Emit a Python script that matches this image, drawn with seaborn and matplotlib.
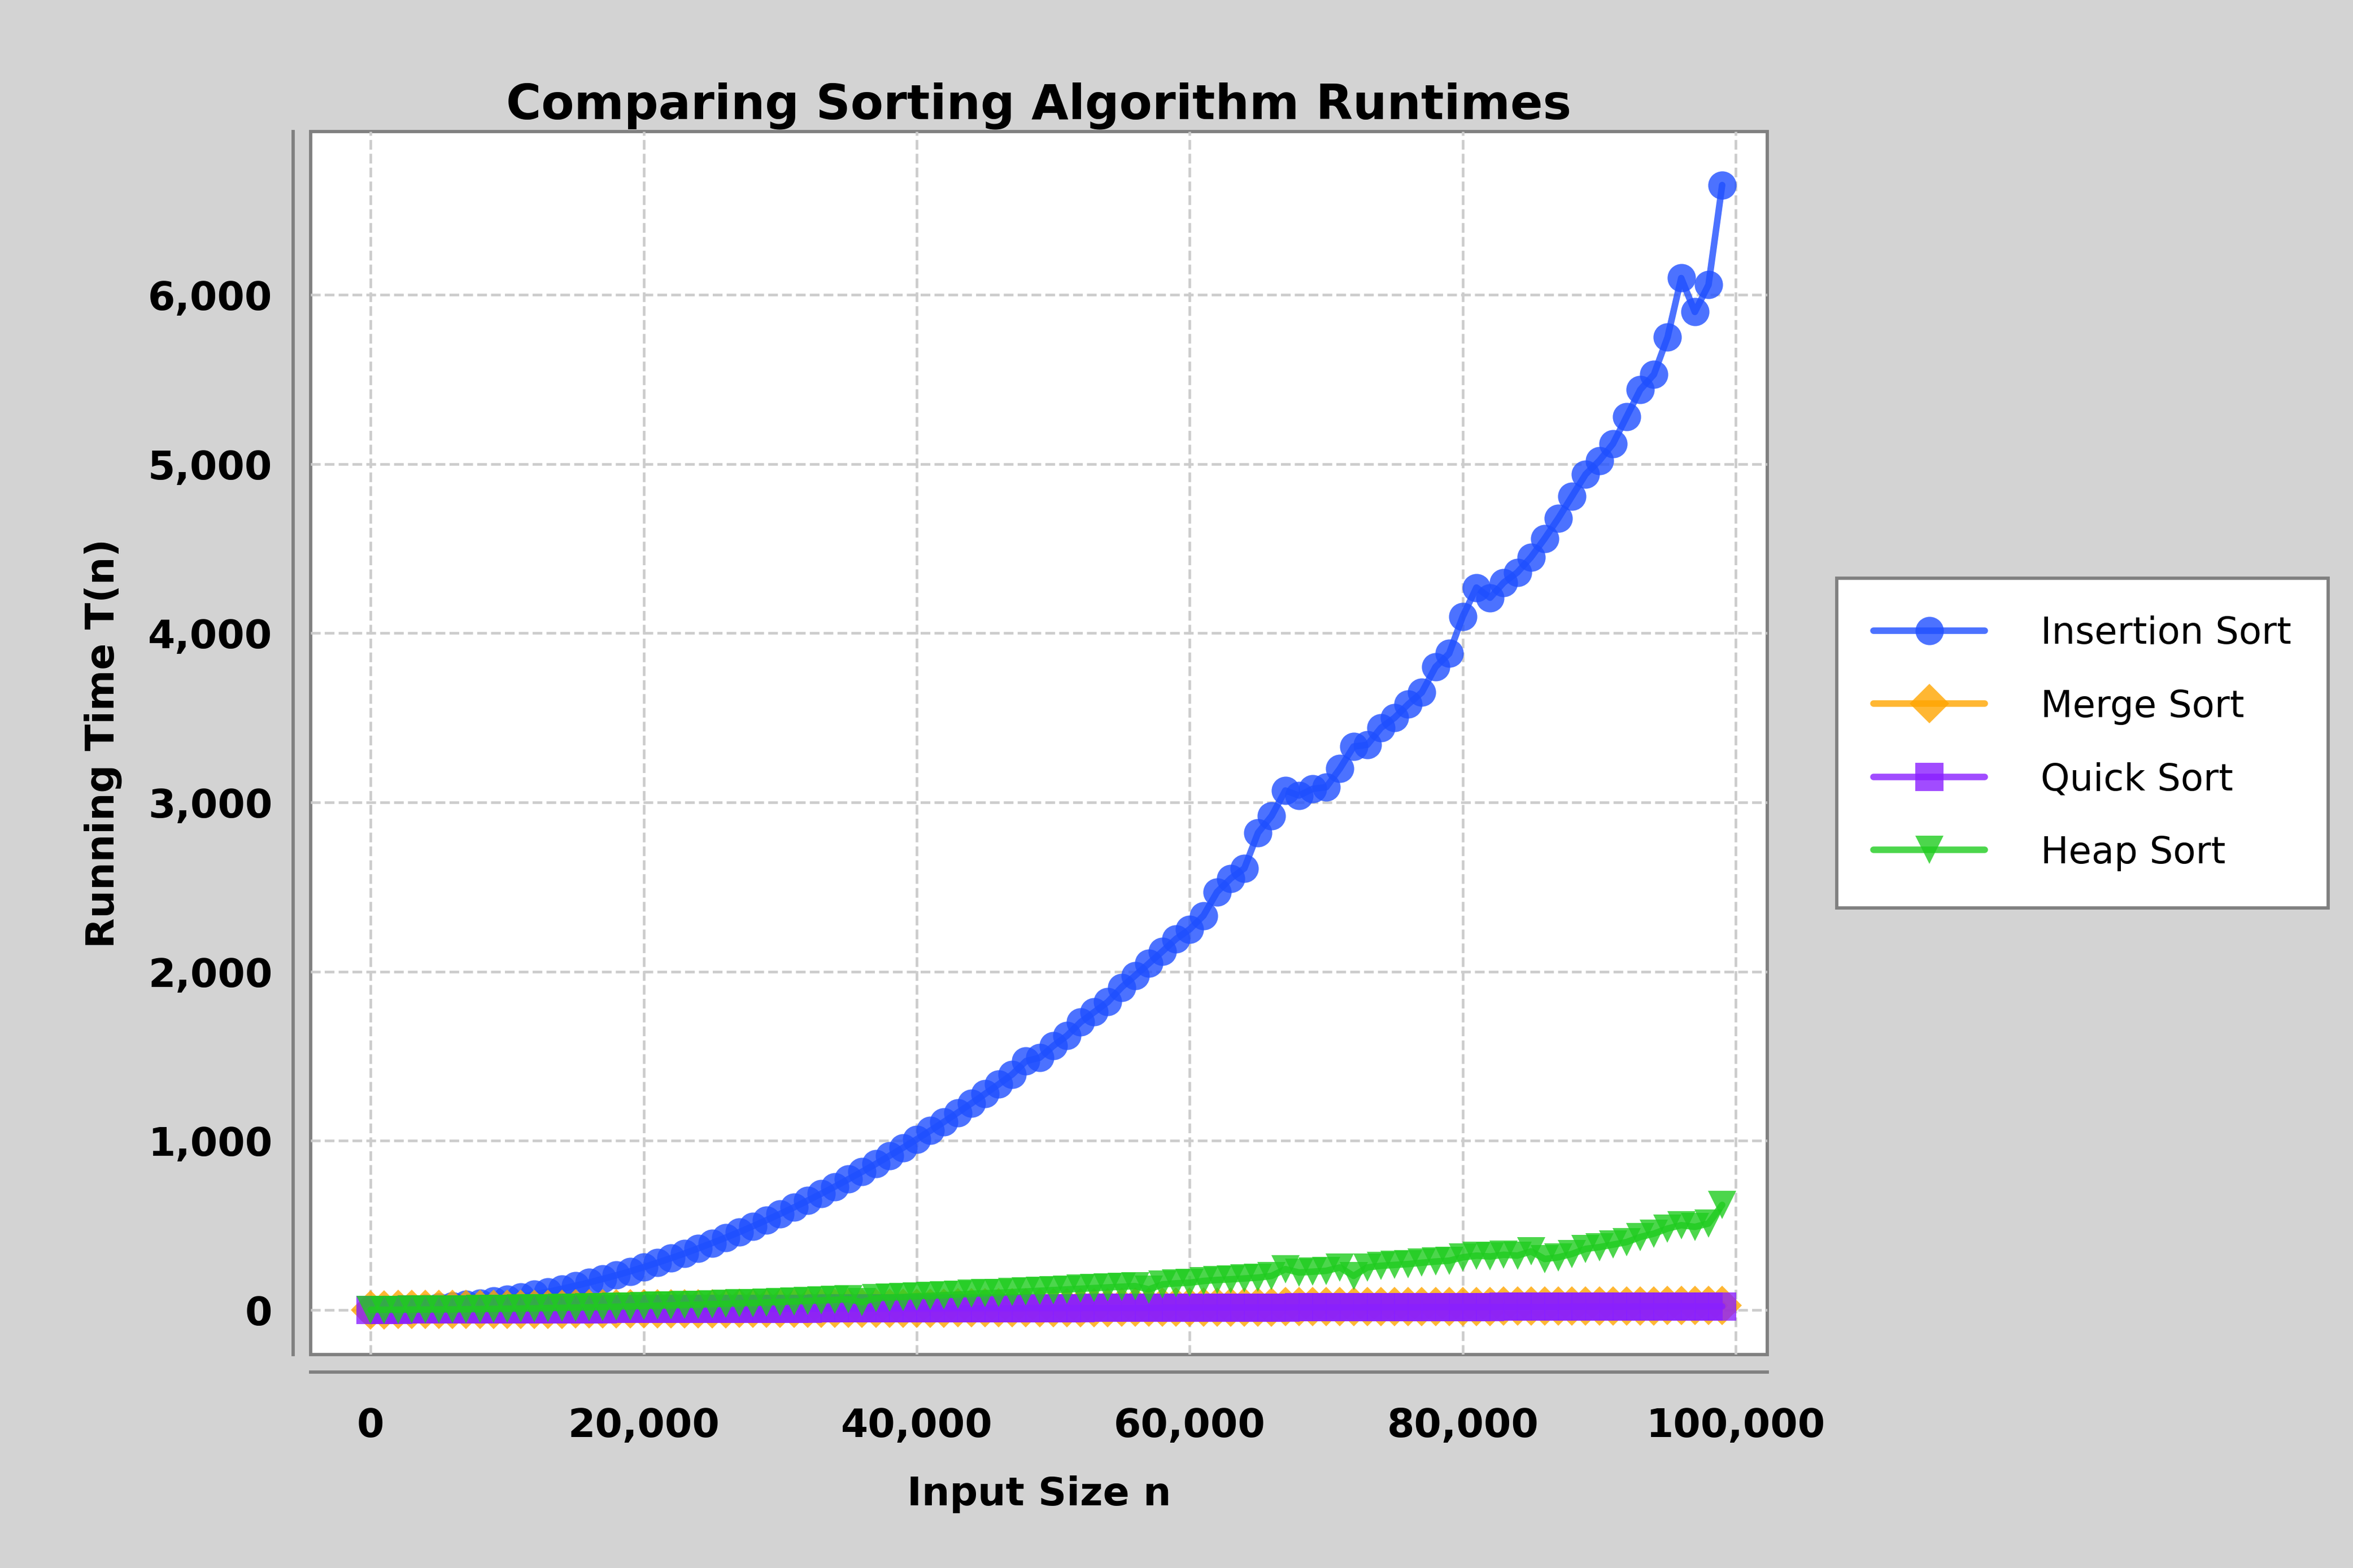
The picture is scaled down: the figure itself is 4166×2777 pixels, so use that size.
import numpy as np
import pandas as pd
import matplotlib.pyplot as plt
import seaborn as sns
from matplotlib.ticker import FuncFormatter

# tamanhos de entrada (milhares)
n_values = list(range(0, 100000, 1000))

insertion = [0, 1, 3, 6, 10, 16, 23, 31, 40, 51,
             63, 76, 91, 106, 123, 142, 161, 182, 204, 227,
             252, 278, 305, 333, 363, 394, 426, 459, 494, 530,
             567, 605, 645, 686, 728, 772, 816, 862, 910, 958,
             1008, 1059, 1111, 1165, 1220, 1276, 1333, 1392, 1470, 1490,
             1560, 1620, 1700, 1760, 1820, 1906, 1976, 2047, 2119, 2193,
             2250, 2330, 2470, 2550, 2610, 2820, 2920, 3070, 3040, 3080,
             3090, 3200, 3330, 3340, 3440, 3500, 3580, 3650, 3800, 3880,
             4100, 4270, 4210, 4300, 4360, 4450, 4560, 4680, 4810, 4940,
             5020, 5120, 5280, 5440, 5530, 5750, 6100, 5900, 6060, 6650]

merge = [0, 0, 1, 1, 1, 1, 2, 2, 2, 2,
         2, 3, 3, 3, 3, 4, 4, 4, 4, 5,
         5, 5, 5, 6, 6, 6, 6, 7, 7, 7,
         7, 8, 8, 8, 8, 9, 9, 9, 9, 10,
         10, 10, 10, 11, 11, 11, 11, 12, 12, 12,
         12, 13, 13, 13, 13, 14, 14, 14, 14, 15,
         15, 15, 15, 16, 16, 16, 16, 17, 17, 17,
         17, 18, 18, 18, 18, 19, 19, 19, 19, 20,
         20, 20, 20, 21, 21, 21, 21, 22, 22, 22,
         22, 23, 23, 23, 23, 24, 24, 24, 24, 25]

quick = [0, 0, 0, 1, 1, 1, 1, 1, 2, 2,
         2, 2, 2, 3, 3, 3, 3, 3, 4, 4,
         4, 4, 4, 5, 5, 5, 5, 5, 6, 6,
         6, 6, 6, 7, 7, 7, 7, 7, 8, 8,
         8, 8, 8, 9, 9, 9, 9, 9, 10, 10,
         10, 10, 10, 11, 11, 11, 11, 11, 12, 12,
         12, 12, 12, 13, 13, 13, 13, 13, 14, 14,
         14, 14, 14, 15, 15, 15, 15, 15, 16, 16,
         16, 16, 16, 17, 17, 17, 17, 17, 18, 18,
         18, 18, 18, 19, 19, 19, 19, 19, 20, 20]

heap = [0, 0, 0, 1, 1, 2, 2, 3, 4, 5,
        6, 7, 8, 10, 11, 13, 14, 16, 18, 20,
        22, 24, 26, 28, 30, 33, 35, 38, 40, 43,
        46, 49, 52, 55, 58, 62, 45, 68, 72, 75,
        80, 82, 86, 90, 94, 98, 100, 104, 108, 112,
        116, 120, 124, 128, 132, 136, 140, 120, 150, 156,
        160, 170, 176, 180, 185, 190, 200, 240, 220, 225,
        230, 250, 200, 250, 260, 265, 270, 278, 285, 290,
        310, 320, 315, 325, 320, 345, 300, 310, 330, 360,
        370, 385, 400, 430, 450, 480, 500, 490, 510, 620]

algos = ['Insertion Sort', 'Merge Sort', 'Quick Sort', 'Heap Sort']
series = [insertion, merge, quick, heap]
cores = {'Insertion Sort': '#1f4fff', 'Merge Sort': '#ffa500',
         'Quick Sort': '#8a1fff', 'Heap Sort': '#1fcc1f'}
marcadores = {'Insertion Sort': 'o', 'Merge Sort': 'D',
              'Quick Sort': 's', 'Heap Sort': 'v'}

df = pd.concat([pd.DataFrame({'n': n_values, 'T': s, 'Algoritmo': a})
                for a, s in zip(algos, series)], ignore_index=True)

sns.set_style('white')
plt.rcParams['font.family'] = ['DejaVu Sans']
plt.rcParams['font.weight'] = 'bold'
plt.rcParams['text.color'] = 'black'
plt.rcParams['axes.labelcolor'] = 'black'
plt.rcParams['xtick.color'] = 'black'
plt.rcParams['ytick.color'] = 'black'

fig = plt.figure(figsize=(15, 10), dpi=277.75, facecolor='#d3d3d3')
ax = fig.add_axes([0.132, 0.136, 0.619, 0.78])

sns.lineplot(data=df, x='n', y='T', hue='Algoritmo', style='Algoritmo',
             palette=cores, markers=marcadores, dashes=False,
             linewidth=3, markersize=13, markeredgewidth=0, alpha=0.8, ax=ax)

ax.grid(True, linestyle='--', color='#cccccc', linewidth=1.2)
ax.set_xlim(-4400, 102300)
ax.set_ylim(-266, 6967)
ax.set_xticks([0, 20000, 40000, 60000, 80000, 100000])
ax.set_yticks([0, 1000, 2000, 3000, 4000, 5000, 6000])
fmt = FuncFormatter(lambda v, p: f'{int(v):,}')
ax.xaxis.set_major_formatter(fmt)
ax.yaxis.set_major_formatter(fmt)
ax.tick_params(axis='both', labelsize=18, length=6, color='gray')
ax.tick_params(axis='x', pad=10)

ax.patch.set_edgecolor('gray')
ax.patch.set_linewidth(1.5)
for lado in ['top', 'right']:
    ax.spines[lado].set_visible(False)
for lado in ['left', 'bottom']:
    ax.spines[lado].set_position(('outward', 8))
    ax.spines[lado].set_color('gray')
    ax.spines[lado].set_linewidth(1.5)

ax.set_title('Comparing Sorting Algorithm Runtimes', fontsize=22, fontweight='bold')
ax.set_xlabel('Input Size n', fontsize=18, fontweight='bold', labelpad=14)
ax.set_ylabel('Running Time T(n)', fontsize=18, fontweight='bold', labelpad=12)

leg = ax.legend(loc='center left', bbox_to_anchor=(1.035, 0.5),
                prop={'size': 17, 'weight': 'normal'},
                frameon=True, fancybox=False, framealpha=1, facecolor='white',
                borderpad=1.0, labelspacing=1.0, handlelength=3, handletextpad=1.5)
leg.get_frame().set_edgecolor('gray')
leg.get_frame().set_linewidth(1.5)

plt.savefig('out.png', dpi=277.75, facecolor=fig.get_facecolor())
plt.close()
